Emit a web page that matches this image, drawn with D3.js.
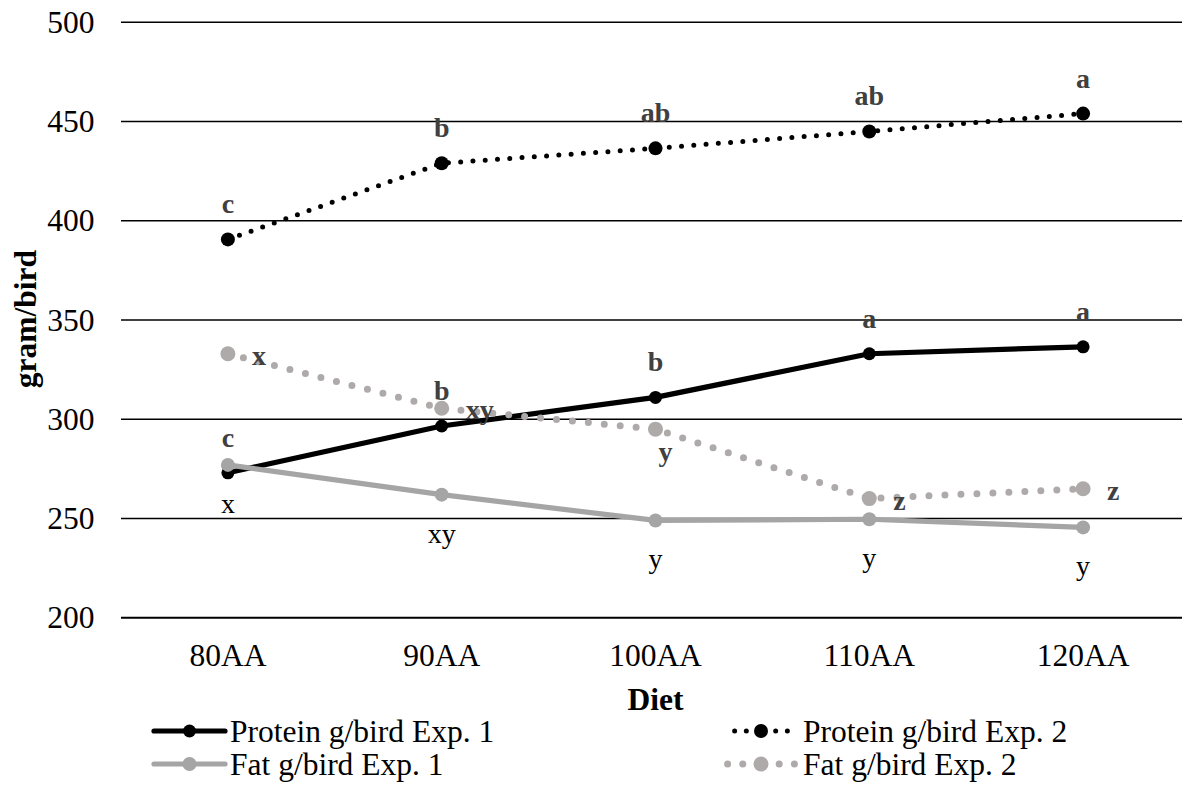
<!DOCTYPE html>
<html><head><meta charset="utf-8">
<script src="https://cdn.jsdelivr.net/npm/d3@7"></script>
<style>body{margin:0;background:#fff} text{font-family:"Liberation Serif","Times New Roman",serif}</style>
</head><body><svg id="c" width="1182" height="792"></svg>
<script>
const categories = ["80AA","90AA","100AA","110AA","120AA"];
const proteinExp1 = [273, 296.6, 311, 333, 336.5];
const proteinExp2 = [390.6, 429, 436.5, 445, 454];
const fatExp1 = [277, 262, 249, 249.6, 245.5];
const fatExp2 = [333, 305.5, 295, 260, 265];
const proteinExp1Letters = ["c","b","b","a","a"];
const proteinExp2Letters = ["c","b","ab","ab","a"];
const fatExp1Letters = ["x","xy","y","y","y"];
const fatExp2Letters = ["x","xy","y","z","z"];
const fatExp2Placement = ["right","right","belowRight","right","right"];
const yTicks = [200,250,300,350,400,450,500];
const seriesNames = ["Protein g/bird Exp. 1","Protein g/bird Exp. 2","Fat g/bird Exp. 1","Fat g/bird Exp. 2"];

const svg = d3.select("#c");
const x = d3.scaleBand().domain(categories).range([121, 1190]).paddingInner(0).paddingOuter(0);
const cx = c => x(c) + x.bandwidth()/2;
const y = d3.scaleLinear().domain([200, 500]).range([617.7, 22.3]);

const series = [
  {name: seriesNames[0], values: proteinExp1, letters: proteinExp1Letters, place: categories.map(()=>"above"),
   color:"#000", width:5.2, dash:null, r:6.5, lab:{weight:"bold", fill:"#404040"}},
  {name: seriesNames[1], values: proteinExp2, letters: proteinExp2Letters, place: categories.map(()=>"above"),
   color:"#000", width:5, dash:"0 12.3", r:7, lab:{weight:"bold", fill:"#404040"}},
  {name: seriesNames[2], values: fatExp1, letters: fatExp1Letters, place: categories.map(()=>"below"),
   color:"#a5a5a5", width:5.2, dash:null, r:7, lab:{weight:"normal", fill:"#000"}},
  {name: seriesNames[3], values: fatExp2, letters: fatExp2Letters, place: fatExp2Placement,
   color:"#aeaaaa", width:7, dash:"0 16", r:7.5, lab:{weight:"bold", fill:"#404040"}}
];

// gridlines
svg.append("g").selectAll("line").data(yTicks).join("line")
  .attr("x1", 121).attr("x2", 1190)
  .attr("y1", d => y(d)).attr("y2", d => y(d))
  .attr("stroke", "#000").attr("stroke-width", d => d === 200 ? 2 : 1.6);

// y tick labels
svg.append("g").selectAll("text").data(yTicks).join("text")
  .attr("x", 94.5).attr("y", d => y(d) + 10.5)
  .attr("text-anchor", "end").attr("font-size", 31.5).attr("fill", "#000")
  .text(d => d);

// x tick labels
svg.append("g").selectAll("text").data(categories).join("text")
  .attr("x", d => cx(d)).attr("y", 666)
  .attr("text-anchor", "middle").attr("font-size", 31.5).attr("fill", "#000")
  .text(d => d);

// axis titles
svg.append("text").attr("x", (121+1190)/2).attr("y", 710)
  .attr("text-anchor", "middle").attr("font-size", 31.5).attr("font-weight", "bold").text("Diet");
svg.append("text").attr("transform", "translate(36,319) rotate(-90)")
  .attr("text-anchor", "middle").attr("font-size", 31.5).attr("font-weight", "bold").text("gram/bird");

const line = d3.line().x((d,i) => cx(categories[i])).y(d => y(d));

series.forEach(s => {
  const g = svg.append("g");
  g.append("path").attr("d", line(s.values)).attr("fill", "none")
    .attr("stroke", s.color).attr("stroke-width", s.width)
    .attr("stroke-linecap", "round").attr("stroke-linejoin", "round")
    .attr("stroke-dasharray", s.dash);
  g.selectAll("circle").data(s.values).join("circle")
    .attr("cx", (d,i) => cx(categories[i])).attr("cy", d => y(d)).attr("r", s.r)
    .attr("fill", s.color);
});

// data labels
series.forEach(s => {
  svg.append("g").selectAll("text").data(s.values).join("text")
    .each(function(d, i) {
      const px = cx(categories[i]), py = y(d), p = s.place[i];
      const t = d3.select(this);
      if (p === "above") t.attr("x", px).attr("y", py - 26).attr("text-anchor", "middle");
      else if (p === "below") t.attr("x", px).attr("y", py + 48).attr("text-anchor", "middle");
      else if (p === "right") t.attr("x", px + 24).attr("y", py + 11).attr("text-anchor", "start");
      else t.attr("x", px + 3).attr("y", py + 32).attr("text-anchor", "start");
    })
    .attr("font-size", 28).attr("font-weight", s.lab.weight).attr("fill", s.lab.fill)
    .text((d,i) => s.letters[i]);
});

// legend
const legendPos = [
  {sx: 189.5, tx: 230, y: 731},
  {sx: 761, tx: 803, y: 731},
  {sx: 189.5, tx: 230, y: 764},
  {sx: 761, tx: 803, y: 764}
];
series.forEach((s, i) => {
  const p = legendPos[i];
  const g = svg.append("g");
  if (s.dash) {
    const period = +s.dash.split(" ")[1];
    [-2, -1, 1, 2].forEach(k => {
      g.append("circle").attr("cx", p.sx + k * period * 0.95 + (k < 0 ? -3 : 3)).attr("cy", p.y)
        .attr("r", s.width / 2).attr("fill", s.color);
    });
  } else {
    g.append("line").attr("x1", p.sx - 35.5).attr("x2", p.sx + 35.5).attr("y1", p.y).attr("y2", p.y)
      .attr("stroke", s.color).attr("stroke-width", s.width).attr("stroke-linecap", "round");
  }
  g.append("circle").attr("cx", p.sx).attr("cy", p.y).attr("r", s.r).attr("fill", s.color);
  g.append("text").attr("x", p.tx).attr("y", p.y + 10.5).attr("font-size", 31.5).attr("fill", "#000").text(s.name);
});
</script></body></html>
